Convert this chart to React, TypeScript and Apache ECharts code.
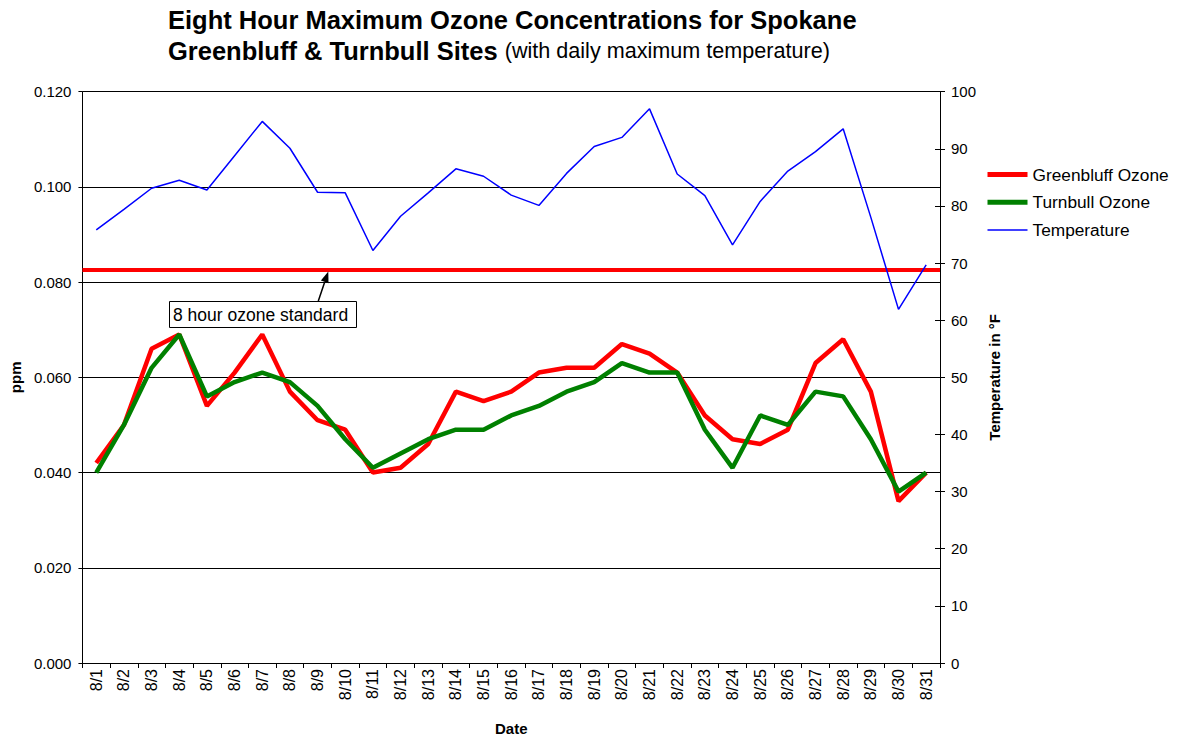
import React, { useEffect, useRef } from "react";
import * as echarts from "echarts";

const dates = [
  "8/1", "8/2", "8/3", "8/4", "8/5", "8/6", "8/7", "8/8", "8/9", "8/10",
  "8/11", "8/12", "8/13", "8/14", "8/15", "8/16", "8/17", "8/18", "8/19", "8/20",
  "8/21", "8/22", "8/23", "8/24", "8/25", "8/26", "8/27", "8/28", "8/29", "8/30", "8/31",
];

const greenbluff = [
  0.042, 0.050, 0.066, 0.069, 0.054, 0.061, 0.069, 0.057, 0.051, 0.049,
  0.040, 0.041, 0.046, 0.057, 0.055, 0.057, 0.061, 0.062, 0.062, 0.067,
  0.065, 0.061, 0.052, 0.047, 0.046, 0.049, 0.063, 0.068, 0.057, 0.034, 0.040,
];

const turnbull = [
  0.040, 0.050, 0.062, 0.069, 0.056, 0.059, 0.061, 0.059, 0.054, 0.047,
  0.041, 0.044, 0.047, 0.049, 0.049, 0.052, 0.054, 0.057, 0.059, 0.063,
  0.061, 0.061, 0.049, 0.041, 0.052, 0.050, 0.057, 0.056, 0.047, 0.036, 0.040,
];

const temperature = [
  75.8, 79.4, 83.1, 84.5, 82.8, 88.8, 94.8, 90.1, 82.4, 82.3,
  72.2, 78.2, 82.3, 86.5, 85.2, 81.9, 80.1, 85.7, 90.4, 92.0,
  97.0, 85.6, 81.8, 73.2, 80.8, 86.1, 89.5, 93.5, 78.0, 61.9, 69.7,
];

const ozoneStandard = 0.0825;

const FONT = 'Arial, "Liberation Sans", sans-serif';

export default function App() {
  const ref = useRef<HTMLDivElement>(null);

  useEffect(() => {
    if (!ref.current) return;
    const chart = echarts.init(ref.current, null, { renderer: "svg" });
    chart.setOption({
      animation: false,
      backgroundColor: "#ffffff",
      textStyle: { fontFamily: FONT },
      title: {
        left: 163,
        top: 0,
        text: "Eight Hour Maximum Ozone Concentrations for Spokane\n{b|Greenbluff & Turnbull Sites} {n|(with daily maximum temperature)}",
        textStyle: {
          fontFamily: FONT,
          fontSize: 25.5,
          fontWeight: "bold",
          color: "#000",
          lineHeight: 30,
          rich: {
            b: { fontFamily: FONT, fontSize: 25.5, fontWeight: "bold", color: "#000", lineHeight: 31 },
            n: { fontFamily: FONT, fontSize: 21.6, fontWeight: "normal", color: "#000", lineHeight: 31 },
          },
        },
      },
      legend: {
        orient: "vertical",
        left: 980,
        top: 161,
        itemWidth: 40,
        itemHeight: 14,
        itemGap: 10.7,
        itemStyle: { opacity: 0 },
        textStyle: { fontFamily: FONT, fontSize: 17.3, color: "#000" },
        data: [
          { name: "Greenbluff Ozone", lineStyle: { width: 5 } },
          { name: "Turnbull Ozone", lineStyle: { width: 5 } },
          { name: "Temperature", lineStyle: { width: 1.5 } },
        ],
      },
      grid: { left: 81, right: 238, top: 91.7, bottom: 75 },
      xAxis: {
        type: "category",
        data: dates,
        boundaryGap: true,
        name: "Date",
        nameLocation: "middle",
        nameGap: 58,
        nameTextStyle: { fontFamily: FONT, fontSize: 15, fontWeight: "bold", color: "#000" },
        axisLine: { lineStyle: { color: "#000", width: 1 } },
        axisTick: { show: true, length: 5, lineStyle: { color: "#000" } },
        axisLabel: {
          rotate: 90,
          interval: 0,
          fontFamily: FONT,
          fontSize: 16,
          color: "#000",
          margin: 6,
        },
        splitLine: { show: false },
      },
      yAxis: [
        {
          type: "value",
          min: 0,
          max: 0.12,
          interval: 0.02,
          name: "ppm",
          nameLocation: "middle",
          nameGap: 57,
          nameRotate: 90,
          nameTextStyle: { fontFamily: FONT, fontSize: 15, fontWeight: "bold", color: "#000" },
          axisLine: { show: true, lineStyle: { color: "#000", width: 1 } },
          axisTick: { show: true, length: 4, lineStyle: { color: "#000" } },
          axisLabel: {
            fontFamily: FONT,
            fontSize: 15,
            color: "#000",
            margin: 11,
            formatter: (v: number) => v.toFixed(3),
          },
          splitLine: { show: true, lineStyle: { color: "#000", width: 1 } },
        },
        {
          type: "value",
          min: 0,
          max: 100,
          interval: 10,
          position: "right",
          name: "Temperature in °F",
          nameLocation: "middle",
          nameGap: 44,
          nameRotate: 90,
          nameTextStyle: { fontFamily: FONT, fontSize: 15, fontWeight: "bold", color: "#000" },
          axisLine: { show: true, lineStyle: { color: "#000", width: 1 } },
          axisTick: { show: true, length: 5, lineStyle: { color: "#000" } },
          axisLabel: { fontFamily: FONT, fontSize: 15, color: "#000", margin: 11 },
          splitLine: { show: false },
        },
        {
          type: "value",
          min: 0,
          max: 100,
          interval: 10,
          position: "right",
          offset: 0,
          axisLine: { show: false },
          axisTick: { show: true, inside: true, length: 5, lineStyle: { color: "#000" } },
          axisLabel: { show: false },
          splitLine: { show: false },
        },
      ],
      series: [
        {
          name: "Greenbluff Ozone",
          type: "line",
          yAxisIndex: 0,
          data: greenbluff,
          symbol: "none",
          color: "#ff0000",
          lineStyle: { color: "#ff0000", width: 4.5 },
          z: 3,
          markLine: {
            silent: true,
            symbol: "none",
            precision: 4,
            label: { show: false },
            lineStyle: { color: "#ff0000", width: 4, type: "solid" },
            data: [{ yAxis: ozoneStandard }],
          },
        },
        {
          name: "Turnbull Ozone",
          type: "line",
          yAxisIndex: 0,
          data: turnbull,
          symbol: "none",
          color: "#008000",
          lineStyle: { color: "#008000", width: 4.5 },
          z: 4,
        },
        {
          name: "Temperature",
          type: "line",
          yAxisIndex: 1,
          data: temperature,
          symbol: "none",
          color: "#0000ff",
          lineStyle: { color: "#0000ff", width: 1.5 },
          z: 5,
        },
      ],
      graphic: [
        {
          type: "rect",
          shape: { x: 169.5, y: 301.5, width: 187, height: 26 },
          style: { fill: "#fff", stroke: "#000", lineWidth: 1 },
          z: 10,
        },
        {
          type: "text",
          x: 173,
          y: 315,
          style: {
            text: "8 hour ozone standard",
            fontFamily: FONT,
            fontSize: 17.5,
            fill: "#000",
            verticalAlign: "middle",
          },
          z: 11,
        },
        {
          type: "line",
          shape: { x1: 318.3, y1: 301, x2: 324.7, y2: 282 },
          style: { stroke: "#000", lineWidth: 1.5 },
          z: 10,
        },
        {
          type: "polygon",
          shape: { points: [[328.3, 271.6], [320.9, 280.6], [328.5, 283.2]] },
          style: { fill: "#000" },
          z: 10,
        },
      ],
    });
    return () => chart.dispose();
  }, []);

  return (
    <div
      ref={ref}
      style={{ position: "fixed", left: 0, top: 0, width: 1178, height: 741 }}
    />
  );
}
